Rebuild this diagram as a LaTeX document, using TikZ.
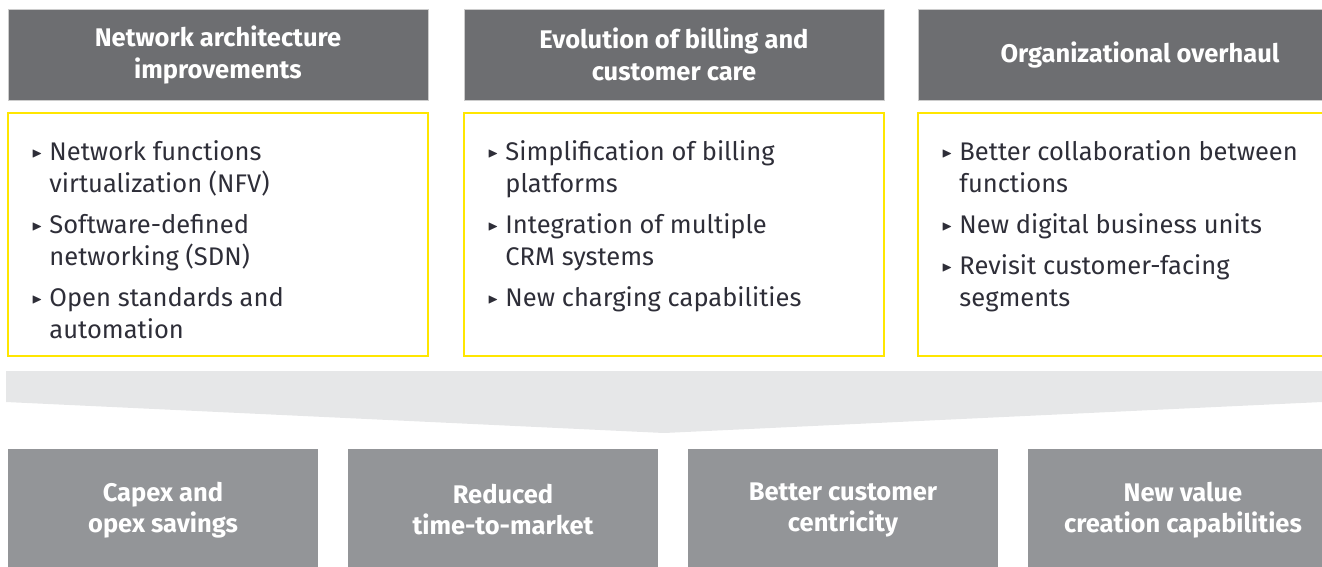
\documentclass[tikz,border=0pt]{standalone}
\usepackage{fontspec}
\usepackage{amssymb}
\setmainfont{Fira Sans}
\usetikzlibrary{positioning}

\definecolor{headgray}{HTML}{6D6E71}
\definecolor{outgray}{HTML}{939598}
\definecolor{bandgray}{HTML}{E6E7E8}
\definecolor{eyyellow}{HTML}{FFE600}
\definecolor{bodytext}{HTML}{2E2E38}

% small triangle bullet hung left of the text
\newcommand{\bul}{\llap{\raisebox{0.1em}{\fontsize{14}{14}\selectfont$\blacktriangleright$}\hspace{7pt}}}

\tikzset{
  hdr/.style={fill=headgray, draw=black!20, line width=1, text=white,
    font=\bfseries\fontsize{25.5}{32}\selectfont, align=center,
    minimum width=420, minimum height=91, inner sep=0},
  listbox/.style={draw=eyyellow, line width=1.5, minimum width=420,
    minimum height=243, inner sep=0},
  listtext/.style={anchor=north west, align=left, text=bodytext,
    font=\fontsize{25.5}{32}\selectfont, inner sep=0},
  outbox/.style={fill=outgray, text=white,
    font=\bfseries\fontsize{25.5}{31}\selectfont, align=center,
    minimum width=310, minimum height=122, inner sep=0}
}

\begin{document}
\begin{tikzpicture}[x=1pt, y=-1pt]
  \useasboundingbox (0,0) rectangle (1322,566);
  \clip (0,0) rectangle (1322,566);

  % headers
  \node (netHead) [hdr] at (218,54.5) {Network architecture\\improvements};
  \node (billHead) [hdr] at (674,54.5) {Evolution of billing and\\customer care};
  \node (orgHead) [hdr, minimum width=444] at (1140,54.5) {Organizational overhaul};

  % yellow boxes
  \node (netBox) [listbox] at (218,234.5) {};
  \node (billBox) [listbox] at (674,234.5) {};
  \node (orgBox) [listbox] at (1128,234.5) {};

  \node (netList) [listtext] at ([shift={(42,28)}]netBox.north west)
    {\bul Network functions\\virtualization (NFV)\\[9pt]
     \bul Software-defined\\networking (SDN)\\[9pt]
     \bul Open standards and\\automation};
  \node (billList) [listtext] at ([shift={(42,28)}]billBox.north west)
    {\bul Simplification of billing\\platforms\\[9pt]
     \bul Integration of multiple\\CRM systems\\[9pt]
     \bul New charging capabilities};
  \node (orgList) [listtext] at ([shift={(42,28)}]orgBox.north west)
    {\bul Better collaboration between\\functions\\[9pt]
     \bul New digital business units\\[9pt]
     \bul Revisit customer-facing\\segments};

  % funnel band
  \fill[bandgray] (6,371) -- (1322,371) -- (1322,402) -- (664,433) -- (6,402) -- cycle;

  % outcomes
  \node (capex) [outbox] at (163,510) {Capex and\\opex savings};
  \node (ttm) [outbox] at (503,510) {Reduced\\time-to-market};
  \node (centric) [outbox] at (843,510) {Better customer\\centricity};
  \node (newval) [outbox] at (1183,510) {New value\\creation capabilities};
\end{tikzpicture}
\end{document}
